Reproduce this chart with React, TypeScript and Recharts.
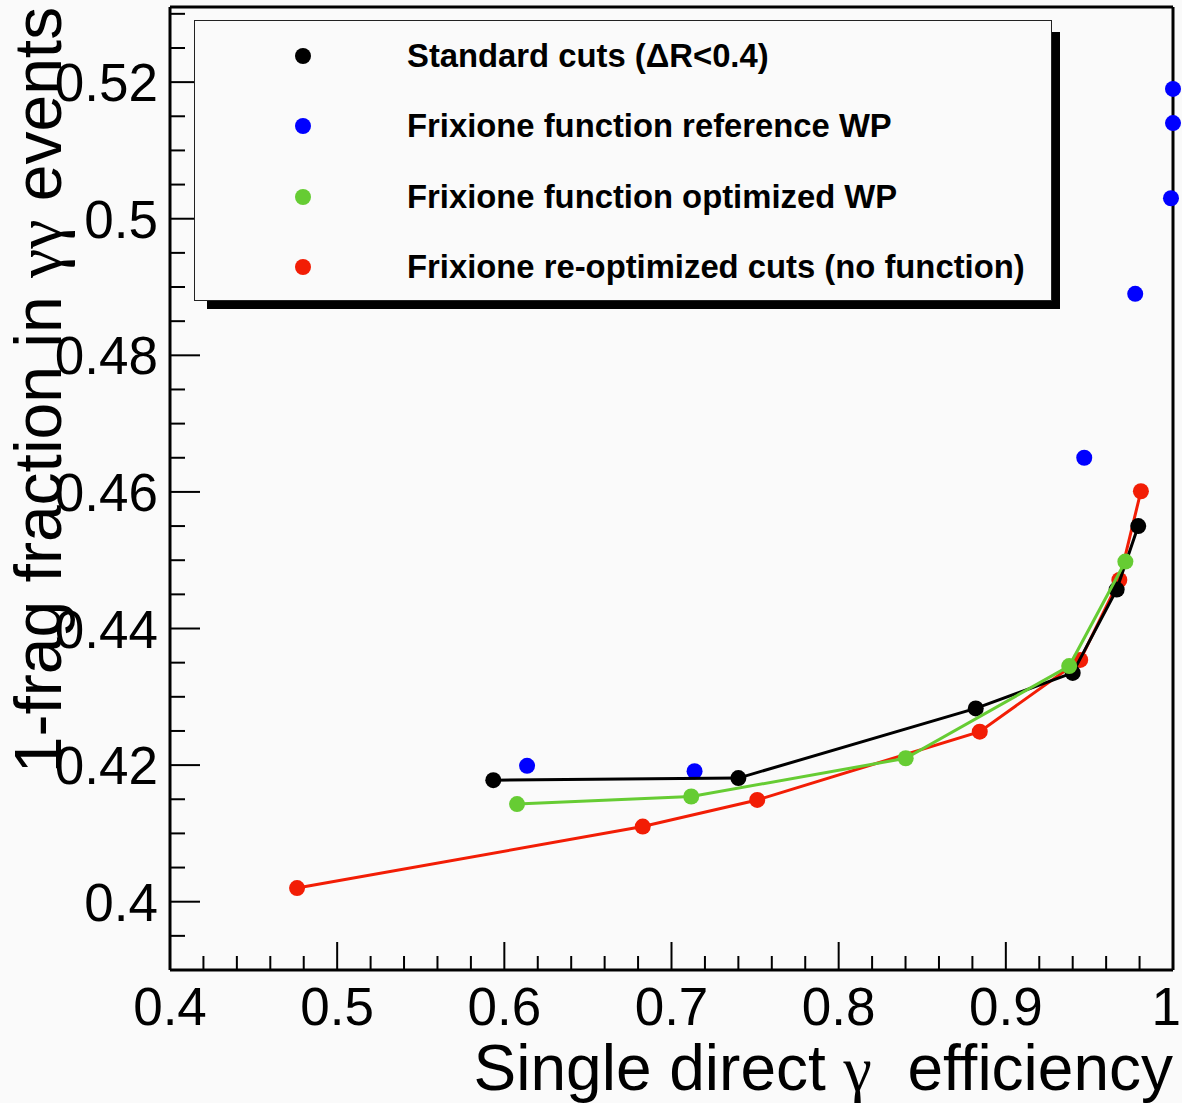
import React from "react";
import { ScatterChart, Scatter, XAxis, YAxis, Label } from "recharts";

// single direct photon efficiency (x) vs 1-frag fraction (y)
const STD_EFF = [0.5934, 0.74, 0.882, 0.94, 0.9663, 0.9792];
const STD_FRAC = [0.4178, 0.4181, 0.4283, 0.4335, 0.4457, 0.455];

const REF_EFF = [0.6136, 0.7138, 0.9469, 0.9774, 0.9988, 1.0, 1.0];
const REF_FRAC = [0.4199, 0.4191, 0.465, 0.489, 0.503, 0.514, 0.519];

const OPT_EFF = [0.6076, 0.7118, 0.8401, 0.9379, 0.9715];
const OPT_FRAC = [0.4143, 0.4154, 0.421, 0.4345, 0.4498];

const REOPT_EFF = [0.476, 0.6828, 0.7513, 0.8844, 0.9445, 0.9679, 0.9808];
const REOPT_FRAC = [0.402, 0.411, 0.4149, 0.4249, 0.4354, 0.4471, 0.4601];

const SERIES_NAMES = [
  "Standard cuts (\u0394R<0.4)",
  "Frixione function reference WP",
  "Frixione function optimized WP",
  "Frixione re-optimized cuts (no function)",
];

const X_TICKS = [
  0.4, 0.42, 0.44, 0.46, 0.48, 0.5, 0.52, 0.54, 0.56, 0.58, 0.6, 0.62, 0.64,
  0.66, 0.68, 0.7, 0.72, 0.74, 0.76, 0.78, 0.8, 0.82, 0.84, 0.86, 0.88, 0.9,
  0.92, 0.94, 0.96, 0.98, 1.0,
];
const Y_TICKS = [
  0.395, 0.4, 0.405, 0.41, 0.415, 0.42, 0.425, 0.43, 0.435, 0.44, 0.445, 0.45,
  0.455, 0.46, 0.465, 0.47, 0.475, 0.48, 0.485, 0.49, 0.495, 0.5, 0.505, 0.51,
  0.515, 0.52, 0.525, 0.53,
];

const X_DOMAIN: [number, number] = [0.4, 1.0];
const Y_DOMAIN: [number, number] = [0.39, 0.531];

const W = 1182;
const H = 1103;
const BG = "#fafafa";
const FONT = "'Liberation Sans', Arial, Helvetica, sans-serif";
const GREEK = "'Liberation Serif', 'DejaVu Serif', serif";

const toPoints = (xs: number[], ys: number[]) => xs.map((x, i) => ({ x, y: ys[i] }));

const SERIES = [
  { name: SERIES_NAMES[0], color: "#000000", data: toPoints(STD_EFF, STD_FRAC), joined: true },
  { name: SERIES_NAMES[1], color: "#0000ff", data: toPoints(REF_EFF, REF_FRAC), joined: false },
  { name: SERIES_NAMES[2], color: "#66cc33", data: toPoints(OPT_EFF, OPT_FRAC), joined: true },
  { name: SERIES_NAMES[3], color: "#f21d05", data: toPoints(REOPT_EFF, REOPT_FRAC), joined: true },
];
// red underneath, green on top
const DRAW_ORDER = [1, 3, 0, 2];

const isStep = (v: number, step: number) => Math.abs(v / step - Math.round(v / step)) < 1e-6;
const fmt = (v: number) => String(parseFloat(v.toFixed(2)));

function BottomTick(props: any) {
  const { x, y, payload } = props;
  const v: number = payload.value;
  const major = isStep(v, 0.1);
  // keep the last label ("1") inside the picture
  const last = v === X_DOMAIN[1];
  return (
    <g>
      <line x1={x} y1={y} x2={x} y2={y - (major ? 28 : 14)} stroke="#000" strokeWidth={2} />
      {major && (
        <text
          x={last ? W - 1 : x}
          y={y + 55}
          textAnchor={last ? "end" : "middle"}
          fontSize={53}
          fontFamily={FONT}
          fill="#000"
        >
          {fmt(v)}
        </text>
      )}
    </g>
  );
}

function TopTick(props: any) {
  const { x, y } = props;
  return <line x1={x} y1={y} x2={x} y2={y + 11} stroke="#000" strokeWidth={2} />;
}

function LeftTick(props: any) {
  const { x, y, payload } = props;
  const v: number = payload.value;
  const major = isStep(v, 0.02);
  return (
    <g>
      <line x1={x} y1={y} x2={x + (major ? 30 : 15)} y2={y} stroke="#000" strokeWidth={2} />
      {major && (
        <text x={x - 12} y={y} dy="0.36em" textAnchor="end" fontSize={53} fontFamily={FONT} fill="#000">
          {fmt(v)}
        </text>
      )}
    </g>
  );
}

function RightTick(props: any) {
  const { x, y, payload } = props;
  const major = isStep(payload.value, 0.02);
  return <line x1={x} y1={y} x2={x - (major ? 30 : 15)} y2={y} stroke="#000" strokeWidth={2} />;
}

function XTitle(props: any) {
  const vb = props.viewBox;
  return (
    <text x={vb.x + vb.width} y={vb.y + 120} textAnchor="end" fontSize={64} fontFamily={FONT} fill="#000">
      Single direct <tspan fontFamily={GREEK}>{"\u03b3"}</tspan>
      {"\u00a0 efficiency"}
    </text>
  );
}

function YTitle(props: any) {
  const vb = props.viewBox;
  const x = vb.x - 108;
  const y = vb.y + 383;
  return (
    <text
      x={x}
      y={y}
      transform={`rotate(-90, ${x}, ${y})`}
      textAnchor="middle"
      fontSize={66}
      fontFamily={FONT}
      fill="#000"
    >
      1-frag fraction in <tspan fontFamily={GREEK}>{"\u03b3\u03b3"}</tspan> events
    </text>
  );
}

function Dot(color: string) {
  return (p: any) => <circle cx={p.cx} cy={p.cy} r={8} fill={color} />;
}

function LegendBox() {
  return (
    <>
      <div style={{ position: "absolute", left: 207, top: 32, width: 853, height: 277, background: "#000" }} />
      <div
        style={{
          position: "absolute",
          left: 194,
          top: 20,
          width: 858,
          height: 281,
          boxSizing: "border-box",
          border: "1px solid #222",
          background: BG,
        }}
      >
        {SERIES.map((s, i) => (
          <div
            key={s.name}
            style={{ position: "absolute", left: 0, top: 35 + i * 70.3 - 20, height: 40, width: "100%" }}
          >
            <div
              style={{
                position: "absolute",
                left: 100,
                top: 12,
                width: 16,
                height: 16,
                borderRadius: 8,
                background: s.color,
              }}
            />
            <div
              style={{
                position: "absolute",
                left: 212,
                top: 0,
                lineHeight: "40px",
                fontSize: 32.8,
                fontWeight: "bold",
                fontFamily: FONT,
                color: "#000",
                whiteSpace: "nowrap",
              }}
            >
              {s.name}
            </div>
          </div>
        ))}
      </div>
    </>
  );
}

export default function App() {
  return (
    <div style={{ position: "absolute", left: 0, top: 0, width: W, height: H, background: BG, overflow: "hidden" }}>
      <ScatterChart width={W} height={H} margin={{ top: 6, right: 8, left: 169, bottom: 132 }}>
        <XAxis
          xAxisId="b"
          type="number"
          dataKey="x"
          domain={X_DOMAIN}
          ticks={X_TICKS}
          interval={0}
          height={1}
          tickSize={0}
          tickMargin={0}
          tickLine={false}
          axisLine={{ stroke: "#000", strokeWidth: 3 }}
          tick={(p: any) => <BottomTick {...p} />}
        >
          <Label content={(p: any) => <XTitle {...p} />} />
        </XAxis>
        <XAxis
          xAxisId="t"
          orientation="top"
          type="number"
          dataKey="x"
          domain={X_DOMAIN}
          ticks={X_TICKS}
          interval={0}
          height={1}
          tickSize={0}
          tickMargin={0}
          tickLine={false}
          axisLine={{ stroke: "#000", strokeWidth: 3 }}
          tick={(p: any) => <TopTick {...p} />}
        />
        <YAxis
          yAxisId="l"
          type="number"
          dataKey="y"
          domain={Y_DOMAIN}
          ticks={Y_TICKS}
          interval={0}
          width={1}
          tickSize={0}
          tickMargin={0}
          tickLine={false}
          axisLine={{ stroke: "#000", strokeWidth: 3 }}
          tick={(p: any) => <LeftTick {...p} />}
        >
          <Label content={(p: any) => <YTitle {...p} />} />
        </YAxis>
        <YAxis
          yAxisId="r"
          orientation="right"
          type="number"
          dataKey="y"
          domain={Y_DOMAIN}
          ticks={Y_TICKS}
          interval={0}
          width={1}
          tickSize={0}
          tickMargin={0}
          tickLine={false}
          axisLine={{ stroke: "#000", strokeWidth: 3 }}
          tick={(p: any) => <RightTick {...p} />}
        />
        {DRAW_ORDER.map((i) => {
          const s = SERIES[i];
          return (
            <Scatter
              key={s.name}
              name={s.name}
              data={s.data}
              xAxisId="b"
              yAxisId="l"
              fill={s.color}
              line={s.joined ? { stroke: s.color, strokeWidth: 3 } : false}
              lineType="joint"
              shape={Dot(s.color)}
              isAnimationActive={false}
            />
          );
        })}
      </ScatterChart>
      <LegendBox />
    </div>
  );
}
